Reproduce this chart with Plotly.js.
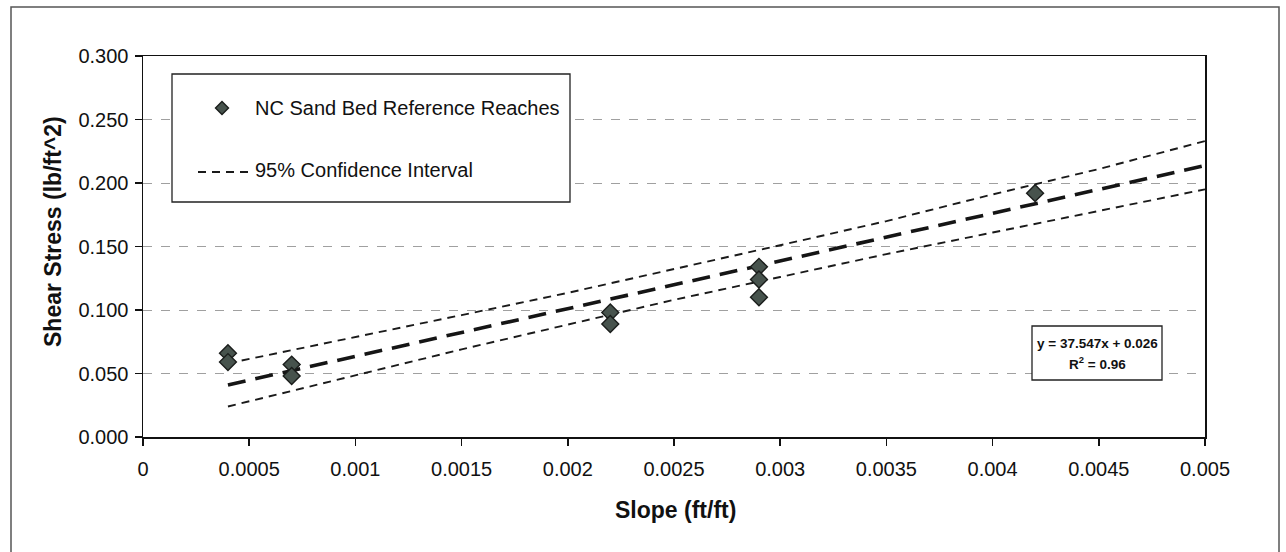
<!DOCTYPE html>
<html>
<head>
<meta charset="utf-8">
<script src="https://cdn.plot.ly/plotly-3.0.1.min.js"></script>
<style>
  html, body { margin: 0; padding: 0; background: #fff; }
  #chart { width: 1286px; height: 552px; }
</style>
</head>
<body>
<div id="chart"></div>
<script>
// ---- Data ----
const slopeX = [0.0004, 0.0004, 0.0007, 0.0007, 0.0022, 0.0022, 0.0029, 0.0029, 0.0029, 0.0042];
const shearY = [0.066, 0.059, 0.057, 0.048, 0.098, 0.089, 0.134, 0.124, 0.110, 0.192];

const trendX = [0.0004, 0.005];
const trendY = [0.041, 0.2137];

const ciX     = [0.0004, 0.001, 0.0015, 0.002, 0.0025, 0.003, 0.0035, 0.004, 0.0045, 0.005];
const ciUpper = [0.058, 0.0785, 0.096, 0.1135, 0.132, 0.151, 0.170, 0.191, 0.211, 0.233];
const ciLower = [0.024, 0.0485, 0.069, 0.0885, 0.108, 0.126, 0.144, 0.161, 0.178, 0.195];

const xTickVals   = [0, 0.0005, 0.001, 0.0015, 0.002, 0.0025, 0.003, 0.0035, 0.004, 0.0045, 0.005];
const xTickLabels = ['0', '0.0005', '0.001', '0.0015', '0.002', '0.0025', '0.003', '0.0035', '0.004', '0.0045', '0.005'];
const yTickVals   = [0, 0.05, 0.1, 0.15, 0.2, 0.25, 0.3];
const yTickLabels = ['0.000', '0.050', '0.100', '0.150', '0.200', '0.250', '0.300'];

const seriesName = 'NC Sand Bed Reference Reaches';
const ciName = '95% Confidence Interval';
const eqLine1 = 'y = 37.547x + 0.026';
const eqLine2 = 'R<sup>2</sup> = 0.96';
const xTitle = 'Slope (ft/ft)';
const yTitle = 'Shear Stress (lb/ft^2)';

// ---- Layout geometry (pixels) ----
const W = 1286, H = 552;
const L = 143, R = 1205, T = 56, B = 437;
const px = v => (v - L) / (R - L);
const py = v => (B - v) / (B - T);

const FONT = 'Arial, "Liberation Sans", sans-serif';

const traces = [
  {
    x: ciX, y: ciUpper, mode: 'lines', showlegend: false, hoverinfo: 'skip',
    line: { color: '#1a1a1a', width: 1.9, dash: '8px,6px' }
  },
  {
    x: ciX, y: ciLower, mode: 'lines', showlegend: false, hoverinfo: 'skip',
    line: { color: '#1a1a1a', width: 1.9, dash: '8px,6px' }
  },
  {
    x: trendX, y: trendY, mode: 'lines', showlegend: false, hoverinfo: 'skip',
    line: { color: '#151515', width: 3.6, dash: '18px,10px' }
  },
  {
    x: slopeX, y: shearY, mode: 'markers', name: seriesName, showlegend: false,
    marker: { symbol: 'diamond', size: 13, color: '#47534d', line: { color: '#1a1d1b', width: 1.4 } }
  }
];

// legend geometry
const lgX0 = 172, lgX1 = 570, lgY0 = 74, lgY1 = 202;
const dmX = 222, dmY = 108, dmR = 6.5;
const diamondPath = `M ${px(dmX)} ${py(dmY - dmR)} L ${px(dmX + dmR)} ${py(dmY)} L ${px(dmX)} ${py(dmY + dmR)} L ${px(dmX - dmR)} ${py(dmY)} Z`;

const shapes = [
  // outer frame
  { type: 'rect', xref: 'paper', yref: 'paper', x0: px(11), x1: px(1279), y0: py(575), y1: py(7),
    line: { color: '#555', width: 1.5 }, fillcolor: 'rgba(0,0,0,0)', layer: 'below' },
  // legend box
  { type: 'rect', xref: 'paper', yref: 'paper', x0: px(lgX0), x1: px(lgX1), y0: py(lgY1), y1: py(lgY0),
    line: { color: '#222', width: 1.3 }, fillcolor: '#ffffff', layer: 'above' },
  // legend diamond
  { type: 'path', xref: 'paper', yref: 'paper', path: diamondPath,
    fillcolor: '#47534d', line: { color: '#1a1d1b', width: 1.4 }, layer: 'above' },
  // legend dashed line
  { type: 'line', xref: 'paper', yref: 'paper', x0: px(198), x1: px(251), y0: py(172), y1: py(172),
    line: { color: '#1a1a1a', width: 1.9, dash: '8px,6px' }, layer: 'above' },
  // equation box
  { type: 'rect', xref: 'paper', yref: 'paper', x0: px(1032), x1: px(1162), y0: py(380), y1: py(326),
    line: { color: '#222', width: 1.3 }, fillcolor: '#ffffff', layer: 'above' }
];

const annotations = [
  { xref: 'paper', yref: 'paper', x: px(253), y: py(108), xanchor: 'left', yanchor: 'middle',
    text: seriesName, showarrow: false, font: { family: FONT, size: 20, color: '#111' } },
  { xref: 'paper', yref: 'paper', x: px(253), y: py(170), xanchor: 'left', yanchor: 'middle',
    text: ciName, showarrow: false, font: { family: FONT, size: 20, color: '#111' } },
  { xref: 'paper', yref: 'paper', x: px(1097), y: py(343), xanchor: 'center', yanchor: 'middle',
    text: '<b>' + eqLine1 + '</b>', showarrow: false, font: { family: FONT, size: 13.5, color: '#111' } },
  { xref: 'paper', yref: 'paper', x: px(1097), y: py(363), xanchor: 'center', yanchor: 'middle',
    text: '<b>' + eqLine2 + '</b>', showarrow: false, font: { family: FONT, size: 13.5, color: '#111' } },
  { xref: 'paper', yref: 'paper', x: px(675), y: py(510), xanchor: 'center', yanchor: 'middle',
    text: '<b>' + xTitle + '</b>', showarrow: false, font: { family: FONT, size: 23, color: '#111' } },
  { xref: 'paper', yref: 'paper', x: px(53), y: py(232), xanchor: 'center', yanchor: 'middle', textangle: -90,
    text: '<b>' + yTitle + '</b>', showarrow: false, font: { family: FONT, size: 23, color: '#111' } }
];

const layout = {
  width: W, height: H,
  margin: { l: L, r: W - R, t: T, b: H - B, pad: 0 },
  paper_bgcolor: '#ffffff', plot_bgcolor: '#ffffff',
  showlegend: false,
  font: { family: FONT, size: 20, color: '#111' },
  xaxis: {
    range: [0, 0.005], tickmode: 'array', tickvals: xTickVals, ticktext: xTickLabels,
    showgrid: false, zeroline: false,
    showline: true, linecolor: '#111', linewidth: 1.5, mirror: true,
    ticks: 'outside', ticklen: 7, tickwidth: 1.5, tickcolor: '#111',
    tickfont: { family: FONT, size: 20, color: '#111' }, ticklabelstandoff: 6
  },
  yaxis: {
    range: [0, 0.3], tickmode: 'array', tickvals: yTickVals, ticktext: yTickLabels,
    showgrid: true, gridcolor: '#a0a0a0', gridwidth: 1, griddash: 'dash',
    zeroline: false,
    showline: true, linecolor: '#111', linewidth: 1.5, mirror: true,
    ticks: 'outside', ticklen: 7, tickwidth: 1.5, tickcolor: '#111',
    tickfont: { family: FONT, size: 20, color: '#111' }, ticklabelstandoff: 2
  },
  shapes: shapes,
  annotations: annotations
};

Plotly.newPlot('chart', traces, layout, { staticPlot: true, displayModeBar: false });
</script>
</body>
</html>
